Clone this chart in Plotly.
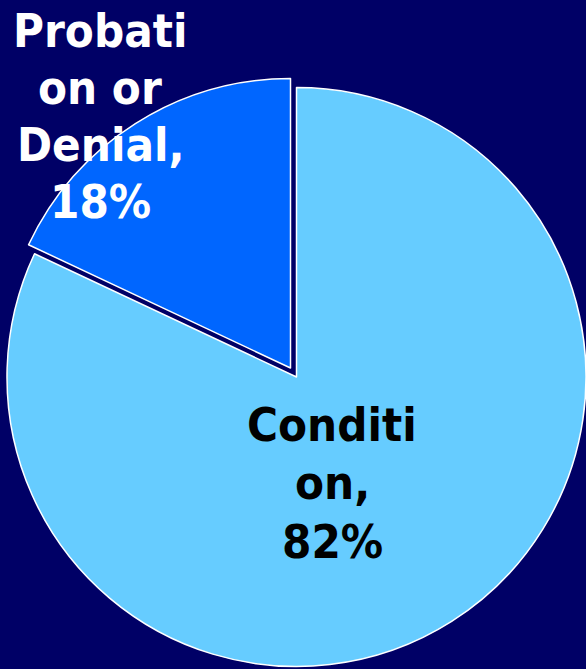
import textwrap
import plotly.graph_objects as go

# Outcome shares
categories = ["Condition", "Probation or Denial"]
shares = [82, 18]

slice_colors = ["#66CCFF", "#0066FF"]
label_colors = ["#000000", "#FFFFFF"]
TRANSPARENT = "rgba(0,0,0,0)"
BG = "#000066"

W, H = 586, 669

# Pie geometry (pixels): centre, radius and the offset of the exploded slice
CX, CY, R = 296.5, 377.0, 289.5
EXPLODE_DX, EXPLODE_DY = -6.0, -9.0


def domain_for(cx, cy, r):
    return dict(
        x=[max(0.0, (cx - r) / W), min(1.0, (cx + r) / W)],
        y=[max(0.0, (H - cy - r) / H), min(1.0, (H - cy + r) / H)],
    )


def pie_layer(visible_index, dom):
    colors = [c if i == visible_index else TRANSPARENT for i, c in enumerate(slice_colors)]
    widths = [1.5 if i == visible_index else 0 for i in range(len(categories))]
    return go.Pie(
        labels=categories,
        values=shares,
        sort=False,
        direction="clockwise",
        rotation=0,
        marker=dict(colors=colors, line=dict(color="#FFFFFF", width=widths)),
        textinfo="none",
        hoverinfo="skip",
        showlegend=False,
        domain=dom,
    )


fig = go.Figure()
# main slice
fig.add_trace(pie_layer(0, domain_for(CX, CY, R)))
# exploded slice, moved out along its bisector
fig.add_trace(pie_layer(1, domain_for(CX + EXPLODE_DX, CY + EXPLODE_DY, R)))

# Slice labels: name wrapped to 7 characters, then the share
label_pos = [(332, 424, 58.5), (100, 30, 57.3)]  # centre x, first line middle y, line step
annotations = []
for i, name in enumerate(categories):
    lines = textwrap.wrap(f"{name},", 7) + [f"{shares[i]}%"]
    x0, y0, step = label_pos[i]
    for k, line in enumerate(lines):
        annotations.append(dict(
            text=f"<b>{line}</b>",
            x=x0 / W, y=1 - (y0 + k * step) / H,
            xref="paper", yref="paper",
            xanchor="center", yanchor="middle",
            showarrow=False,
            font=dict(family="DejaVu Sans Condensed, Liberation Sans, Arial, sans-serif",
                      size=47, color=label_colors[i]),
        ))

fig.update_layout(
    width=W, height=H,
    margin=dict(l=0, r=0, t=0, b=0),
    paper_bgcolor=BG,
    plot_bgcolor=BG,
    annotations=annotations,
)

fig.write_html("out.html")
